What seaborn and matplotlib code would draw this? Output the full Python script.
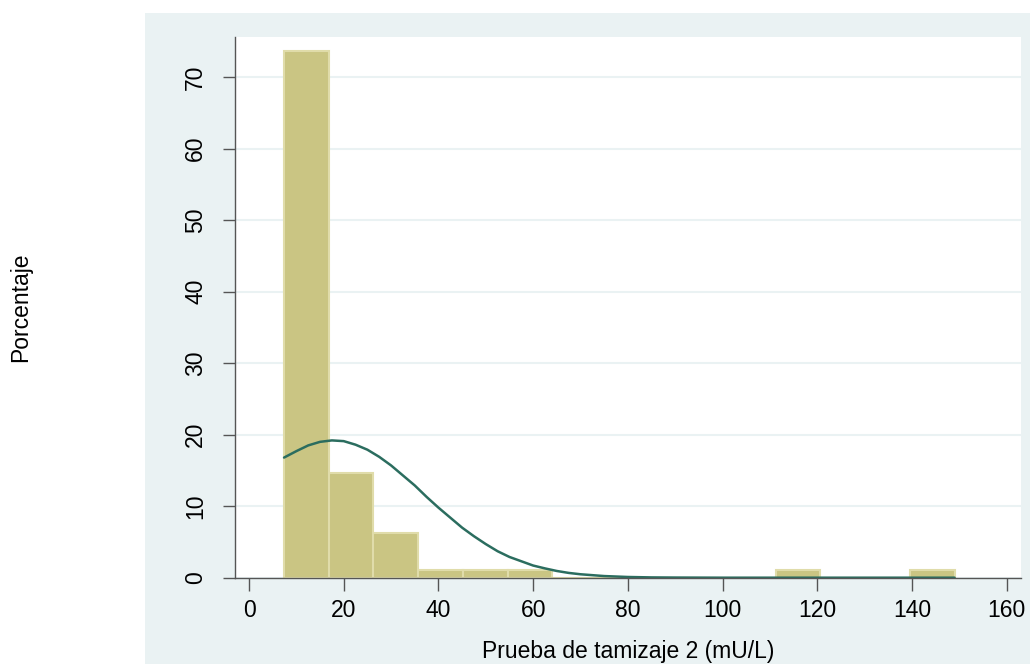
import numpy as np
import pandas as pd
import matplotlib
matplotlib.use("Agg")
import matplotlib.pyplot as plt
import seaborn as sns
from matplotlib.patches import Rectangle

# Histogram bins (mU/L) and percentage per bin
bin_edges = [7.4, 16.84, 26.28, 35.72, 45.16, 54.6, 64.04, 73.48, 82.92,
             92.36, 101.8, 111.24, 120.68, 130.12, 139.56, 149.0]
percent = [73.7, 14.7, 6.3, 1.05, 1.05, 1.05, 0, 0, 0, 0, 0, 1.05, 0, 0, 1.05]

# Normal density overlay (scaled to percent)
curve_x = [7.4, 10, 12.5, 15, 17.5, 20, 22.5, 25, 27.5, 30, 32.5, 35, 37.5,
           40, 42.5, 45, 47.5, 50, 52.5, 55, 57.5, 60, 62.5, 65, 67.5, 70,
           75, 80, 85, 90, 95, 100, 110, 120, 130, 140, 149]
curve_y = [16.8, 17.7, 18.5, 19.0, 19.2, 19.1, 18.6, 17.9, 16.9, 15.7, 14.3,
           12.9, 11.3, 9.8, 8.4, 7.0, 5.8, 4.7, 3.7, 2.9, 2.3, 1.7, 1.3, 0.94,
           0.67, 0.48, 0.23, 0.10, 0.04, 0.02, 0.01, 0, 0, 0, 0, 0, 0]

x_ticks = [0, 20, 40, 60, 80, 100, 120, 140, 160]
y_ticks = [0, 10, 20, 30, 40, 50, 60, 70]

sns.set_theme(style="white")
plt.rcParams['font.family'] = ['Liberation Sans', 'DejaVu Sans']
plt.rcParams['text.color'] = 'black'

fs = 16.5
panel_col = "#EAF2F3"
bar_col = "#CAC583"
edge_col = "#E0DCAA"
line_col = "#2B6D5F"
axis_col = "#555555"

fig = plt.figure(figsize=(10.3, 6.64), dpi=100)
fig.patch.set_facecolor("white")
fig.patches.append(Rectangle((145 / 1030, 0), 1 - 145 / 1030, (664 - 12.7) / 664,
                             transform=fig.transFigure, facecolor=panel_col,
                             edgecolor="none", zorder=-5))

ax = fig.add_axes([235 / 1030, (664 - 577.7) / 664,
                   (1020.7 - 235) / 1030, (577.7 - 36.7) / 664])
ax.set_zorder(2)
ax.set_facecolor("white")

mids = [(a + b) / 2 for a, b in zip(bin_edges[:-1], bin_edges[1:])]
df = pd.DataFrame({"valor": mids, "pct": percent})
sns.histplot(data=df, x="valor", weights="pct", bins=bin_edges, ax=ax,
             color=bar_col, edgecolor=edge_col, linewidth=1.5, alpha=1,
             zorder=2)

cdf = pd.DataFrame({"x": curve_x, "y": curve_y})
sns.lineplot(data=cdf, x="x", y="y", ax=ax, color=line_col, linewidth=1.8,
             zorder=3)

ax.set_xlim(-2.96, 162.96)
ax.set_ylim(0, 75.66)
ax.set_xticks(x_ticks)
ax.set_yticks(y_ticks)
ax.set_yticklabels([str(v) for v in y_ticks], rotation=90, va="center")

ax.grid(axis="y", color=panel_col, linewidth=1.5, zorder=1)
ax.set_axisbelow(True)

for side in ["top", "right"]:
    ax.spines[side].set_visible(False)
for side in ["left", "bottom"]:
    ax.spines[side].set_color(axis_col)
    ax.spines[side].set_linewidth(1.0)
    ax.spines[side].set_zorder(4)

ax.tick_params(axis="x", direction="out", length=9, width=1, color=axis_col,
               pad=6, labelsize=fs, labelcolor="black", bottom=True)
ax.tick_params(axis="y", direction="out", length=9, width=1, color=axis_col,
               pad=11, labelsize=fs, labelcolor="black", left=True)

ax.set_xlabel("Prueba de tamizaje 2 (mU/L)", fontsize=fs, color="black")
ax.set_ylabel("Porcentaje", fontsize=fs, color="black")
ax.xaxis.set_label_coords(0.5, -0.115)
ax.yaxis.set_label_coords(-0.258, 0.5)

fig.savefig("out.png", dpi=100, facecolor=fig.get_facecolor())
